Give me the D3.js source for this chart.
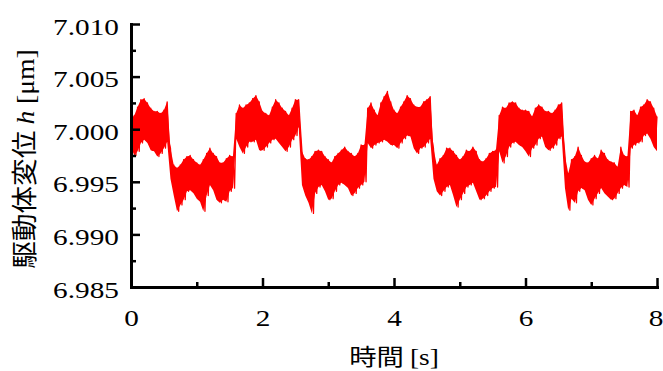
<!DOCTYPE html>
<html><head><meta charset="utf-8">
<script src="https://cdn.jsdelivr.net/npm/d3@7"></script>
<style>body{margin:0;background:#fff}svg{display:block}</style>
</head><body><svg id="c" width="663" height="371"></svg>
<script>
// ---- data ----
const xTicks = [0, 2, 4, 6, 8];
const xMinorTicks = [1, 3, 5, 7];
const yTicks = [6.985, 6.990, 6.995, 7.000, 7.005, 7.010];
const yMinorTicks = [6.9875, 6.9925, 6.9975, 7.0025, 7.0075];
const sampleStep = 0.05; // s, spacing of the envelope samples below
// upper envelope of the displacement trace h [µm], one value per 0.05 s from 0 to 8 s
const upper = [
 7.0010,7.0013,7.0021,7.0028,7.0029,7.0025,7.0020,7.0017,7.0017,7.0015,
 7.0018,7.0026,6.9982,6.9966,6.9963,6.9966,6.9971,6.9974,6.9975,6.9971,
 6.9968,6.9966,6.9971,6.9977,6.9982,6.9977,6.9974,6.9968,6.9968,6.9972,
 6.9975,6.9974,7.0015,7.0023,7.0020,7.0023,7.0025,7.0029,7.0032,7.0026,
 7.0017,7.0015,7.0013,7.0021,7.0028,7.0025,7.0020,7.0017,7.0013,7.0020,
 7.0028,7.0028,6.9979,6.9972,6.9971,6.9974,6.9979,6.9980,6.9979,6.9974,
 6.9971,6.9968,6.9974,6.9977,6.9980,6.9983,6.9979,6.9977,6.9974,6.9977,
 6.9985,6.9985,7.0020,7.0025,7.0018,7.0013,7.0025,7.0031,7.0036,7.0026,
 7.0018,7.0015,7.0021,7.0026,7.0032,7.0029,7.0023,7.0021,7.0021,7.0026,
 7.0028,7.0031,6.9982,6.9966,6.9972,6.9975,6.9982,6.9982,6.9979,6.9975,
 6.9971,6.9974,6.9980,6.9979,6.9983,6.9979,6.9971,6.9969,6.9972,6.9977,
 6.9979,6.9980,7.0013,7.0021,7.0020,7.0025,7.0026,7.0025,7.0020,7.0018,
 7.0018,7.0017,7.0012,7.0020,7.0023,7.0021,7.0017,7.0017,7.0015,7.0018,
 7.0023,7.0025,6.9975,6.9958,6.9971,6.9974,6.9983,6.9975,6.9969,6.9968,
 6.9972,6.9975,6.9972,6.9980,6.9977,6.9971,6.9969,6.9968,6.9964,6.9983,
 6.9975,6.9974,7.0017,7.0018,7.0013,7.0021,7.0023,7.0028,7.0026,7.0020,
 7.0012
];
// lower envelope of the same trace
const lower = [
 6.9983,6.9975,6.9979,6.9987,6.9990,6.9987,6.9980,6.9979,6.9974,6.9977,
 6.9982,6.9988,6.9953,6.9937,6.9922,6.9928,6.9933,6.9941,6.9942,6.9939,
 6.9934,6.9931,6.9922,6.9937,6.9947,6.9942,6.9933,6.9930,6.9933,6.9931,
 6.9941,6.9944,6.9991,6.9983,6.9977,6.9983,6.9988,6.9988,6.9990,6.9980,
 6.9980,6.9983,6.9987,6.9990,6.9991,6.9987,6.9983,6.9979,6.9983,6.9990,
 6.9994,7.0002,6.9947,6.9937,6.9930,6.9920,6.9939,6.9945,6.9947,6.9941,
 6.9933,6.9934,6.9941,6.9947,6.9949,6.9947,6.9944,6.9937,6.9939,6.9944,
 6.9947,6.9950,6.9987,6.9982,6.9985,6.9987,6.9988,6.9990,6.9988,6.9985,
 6.9985,6.9982,6.9987,6.9991,6.9994,6.9993,6.9982,6.9977,6.9982,6.9983,
 6.9987,6.9991,6.9953,6.9941,6.9937,6.9941,6.9945,6.9947,6.9937,6.9926,
 6.9933,6.9939,6.9945,6.9947,6.9949,6.9941,6.9933,6.9934,6.9937,6.9941,
 6.9944,6.9945,6.9979,6.9968,6.9974,6.9983,6.9987,6.9988,6.9985,6.9983,
 6.9979,6.9974,6.9982,6.9985,6.9991,6.9993,6.9983,6.9980,6.9982,6.9985,
 6.9991,6.9993,6.9944,6.9923,6.9934,6.9930,6.9941,6.9944,6.9942,6.9933,
 6.9928,6.9934,6.9939,6.9944,6.9939,6.9936,6.9933,6.9934,6.9939,6.9944,
 6.9947,6.9945,6.9982,6.9985,6.9987,6.9988,6.9994,6.9996,6.9991,6.9983,
 6.9979
];

// ---- chart ----
const svg = d3.select('#c');
const serif = "'Liberation Serif', 'Times New Roman', 'DejaVu Serif'";
const cjk = "'Noto Sans CJK JP', 'Noto Sans CJK SC'";

const x = d3.scaleLinear().domain([0, 8]).range([131, 657]);
const y = d3.scaleLinear().domain([6.985, 7.010]).range([287, 24]);

// trace: zigzag through upper / lower envelope samples
const pts = [];
upper.forEach((u, k) => {
  pts.push([k * sampleStep, u]);
  if (k < upper.length - 1) pts.push([k * sampleStep + sampleStep / 2, lower[k]]);
});
const env = upper.map((u, k) => ({t: k * sampleStep, hi: u, lo: lower[k]}));

svg.append('path').datum(env)
  .attr('d', d3.area().x(d => x(d.t)).y0(d => y(d.lo)).y1(d => y(d.hi)))
  .attr('fill', '#ff0000');
svg.append('path').datum(pts)
  .attr('d', d3.line().x(d => x(d[0])).y(d => y(d[1])))
  .attr('fill', 'none').attr('stroke', '#ff0000').attr('stroke-width', 1.3)
  .attr('stroke-linejoin', 'round');

// axes
const minorY = svg.append('g').attr('transform', `translate(${x(0)},0)`)
  .call(d3.axisLeft(y).tickValues(yMinorTicks).tickSizeInner(-5).tickSizeOuter(0).tickFormat(''));
minorY.select('.domain').remove();
minorY.selectAll('.tick line').attr('stroke', '#000').attr('stroke-width', 2.5);

const minorX = svg.append('g').attr('transform', `translate(0,${y(6.985)})`)
  .call(d3.axisBottom(x).tickValues(xMinorTicks).tickSizeInner(-5).tickSizeOuter(0).tickFormat(''));
minorX.select('.domain').remove();
minorX.selectAll('.tick line').attr('stroke', '#000').attr('stroke-width', 2.5);

function styleAxis(g) {
  g.attr('font-family', serif);
  g.select('.domain').attr('stroke', '#000').attr('stroke-width', 3).attr('stroke-linecap', 'square');
  g.selectAll('.tick line').attr('stroke', '#000').attr('stroke-width', 2.5);
  g.selectAll('.tick text').attr('fill', '#000').attr('font-family', serif).attr('font-size', 24)
    .attr('x', 0).attr('y', 0).attr('dy', 0);
}
const gy = svg.append('g').attr('transform', `translate(${x(0)},0)`)
  .call(d3.axisLeft(y).tickValues(yTicks).tickSizeInner(-9).tickSizeOuter(0)
    .tickFormat(d3.format('.3f')));
styleAxis(gy);
gy.selectAll('.tick text').attr('text-anchor', 'end').attr('transform', 'translate(-12,10) scale(1.22,1)');

const gx = svg.append('g').attr('transform', `translate(0,${y(6.985)})`)
  .call(d3.axisBottom(x).tickValues(xTicks).tickSizeInner(-9).tickSizeOuter(0)
    .tickFormat(d3.format('d')));
styleAxis(gx);
gx.selectAll('.tick text').attr('text-anchor', 'middle')
  .attr('transform', d => `translate(${d === 8 ? -1.5 : 0},39) scale(1.22,1)`);

// axis titles
const yl = svg.append('text')
  .attr('transform', `translate(34,159) rotate(-90) scale(1.15,1.08)`)
  .attr('text-anchor', 'middle').attr('font-size', 24).attr('fill', '#000');
yl.append('tspan').attr('font-family', cjk).text('駆動体変位 ');
yl.append('tspan').attr('font-family', serif).attr('font-style', 'italic').text('h');
yl.append('tspan').attr('font-family', serif).text(' [μm]');

const xl = svg.append('text')
  .attr('transform', `translate(${(x.range()[0] + x.range()[1]) / 2},365) scale(1.19,1)`)
  .attr('text-anchor', 'middle').attr('font-size', 23).attr('fill', '#000');
xl.append('tspan').attr('font-family', cjk).text('時間 ');
xl.append('tspan').attr('font-family', serif).text('[s]');
</script></body></html>
